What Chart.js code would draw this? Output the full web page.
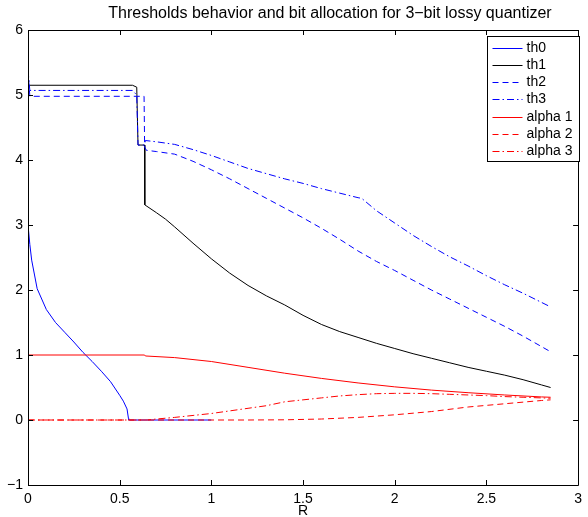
<!DOCTYPE html>
<html>
<head>
<meta charset="utf-8">
<script src="https://cdn.jsdelivr.net/npm/chart.js@4.4.1/dist/chart.umd.min.js"></script>
<style>
  html, body { margin: 0; padding: 0; background: #fff; }
  #wrap { width: 588px; height: 517px; }
</style>
</head>
<body>
<div id="wrap"><canvas id="chart" width="588" height="517"></canvas></div>
<script>
// Data
const chartTitle = 'Thresholds behavior and bit allocation for 3\u2212bit lossy quantizer';
const xLabel = 'R';
const xTicks = [0, 0.5, 1, 1.5, 2, 2.5, 3];
const yTicks = [-1, 0, 1, 2, 3, 4, 5, 6];

const th0R = [0, 0.01, 0.02, 0.05, 0.1, 0.15, 0.2, 0.25, 0.3, 0.35, 0.4, 0.45, 0.5, 0.52, 0.54, 0.548, 0.55, 1.0];
const th0 = [3.0, 2.7, 2.46, 2.02, 1.70, 1.50, 1.35, 1.20, 1.04, 0.90, 0.75, 0.59, 0.38, 0.29, 0.17, 0.02, 0, 0];

const th1R = [0, 0.57, 0.593, 0.6, 0.636, 0.637, 0.7, 0.75, 0.8, 0.9, 1.0, 1.1, 1.2, 1.3, 1.4, 1.5, 1.6, 1.7, 1.8, 1.9, 2.0, 2.1, 2.2, 2.3, 2.4, 2.5, 2.6, 2.7, 2.8, 2.85];
const th1 = [5.15, 5.15, 5.12, 4.23, 4.23, 3.31, 3.19, 3.09, 2.97, 2.72, 2.48, 2.26, 2.07, 1.91, 1.77, 1.61, 1.47, 1.36, 1.27, 1.18, 1.10, 1.02, 0.95, 0.88, 0.81, 0.75, 0.69, 0.62, 0.54, 0.50];

const th2R = [0, 0.01, 0.633, 0.636, 0.645, 0.7, 0.8, 0.9, 1.0, 1.1, 1.2, 1.3, 1.4, 1.5, 1.6, 1.7, 1.8, 1.9, 2.0, 2.1, 2.2, 2.3, 2.4, 2.5, 2.6, 2.7, 2.8, 2.85];
const th2 = [5.38, 4.98, 4.98, 4.2, 4.15, 4.13, 4.09, 3.98, 3.85, 3.71, 3.56, 3.41, 3.26, 3.11, 2.95, 2.78, 2.60, 2.44, 2.30, 2.15, 2.0, 1.86, 1.72, 1.58, 1.44, 1.29, 1.13, 1.05];

const th3R = [0, 0.01, 0.57, 0.593, 0.6, 0.636, 0.64, 0.7, 0.8, 0.9, 1.0, 1.1, 1.2, 1.3, 1.4, 1.5, 1.6, 1.7, 1.8, 1.82, 1.9, 2.0, 2.1, 2.2, 2.3, 2.4, 2.5, 2.6, 2.7, 2.8, 2.85];
const th3 = [5.38, 5.07, 5.07, 5.0, 4.23, 4.23, 4.30, 4.28, 4.24, 4.16, 4.07, 3.97, 3.87, 3.79, 3.71, 3.64, 3.56, 3.49, 3.42, 3.41, 3.22, 3.03, 2.84, 2.67, 2.51, 2.37, 2.22, 2.08, 1.95, 1.81, 1.74];

const alpha1R = [0, 0.636, 0.64, 0.8, 1.0, 1.2, 1.4, 1.6, 1.8, 2.0, 2.2, 2.4, 2.6, 2.8, 2.85];
const alpha1 = [1.0, 1.0, 0.985, 0.96, 0.90, 0.81, 0.72, 0.64, 0.57, 0.51, 0.46, 0.42, 0.385, 0.355, 0.35];

const alpha2R = [0, 1.0, 1.2, 1.4, 1.6, 1.8, 2.0, 2.2, 2.4, 2.6, 2.8, 2.85];
const alpha2 = [0, 0, 0, 0.003, 0.015, 0.04, 0.08, 0.13, 0.2, 0.25, 0.3, 0.31];

const alpha3R = [0, 0.65, 0.7, 0.8, 0.9, 1.0, 1.1, 1.2, 1.3, 1.4, 1.5, 1.6, 1.7, 1.8, 1.9, 2.0, 2.1, 2.2, 2.3, 2.4, 2.5, 2.6, 2.7, 2.8, 2.85];
const alpha3 = [0, 0, 0.015, 0.04, 0.07, 0.10, 0.14, 0.18, 0.22, 0.28, 0.31, 0.34, 0.37, 0.39, 0.405, 0.41, 0.41, 0.405, 0.395, 0.385, 0.375, 0.36, 0.35, 0.34, 0.335];

const FONT = '"Liberation Sans", Arial, Helvetica, sans-serif';
const DASH = [6, 4];
const DASHDOT = [7, 3, 1.5, 3];

function pts(xs, ys) {
    return xs.map((x, i) => ({ x: x, y: ys[i] }));
}

function series(label, xs, ys, color, dash) {
    return {
        label: label,
        data: pts(xs, ys),
        borderColor: color,
        borderWidth: 1,
        borderDash: dash,
        pointRadius: 0,
        fill: false,
        tension: 0
    };
}

const datasets = [
    series('th0', th0R, th0, '#0000ff', []),
    series('th1', th1R, th1, '#000000', []),
    series('th2', th2R, th2, '#0000ff', DASH),
    series('th3', th3R, th3, '#0000ff', DASHDOT),
    series('alpha 1', alpha1R, alpha1, '#ff0000', []),
    series('alpha 2', alpha2R, alpha2, '#ff0000', DASH),
    series('alpha 3', alpha3R, alpha3, '#ff0000', DASHDOT)
];
// later series drawn on top, like the original
datasets.forEach((d, i) => { d.order = datasets.length - i; });

// Axes box, inward ticks, title and legend
const matlabLook = {
    id: 'matlabLook',
    afterDraw(chart) {
        const ctx = chart.ctx;
        const a = chart.chartArea;
        const xs = chart.scales.x, ys = chart.scales.y;
        ctx.save();
        ctx.strokeStyle = '#000';
        ctx.lineWidth = 1;
        ctx.setLineDash([]);
        ctx.beginPath();
        ctx.rect(Math.round(a.left) + 0.5, Math.round(a.top) + 0.5,
                 Math.round(a.right - a.left), Math.round(a.bottom - a.top));
        const tl = 5;
        xTicks.forEach(v => {
            const px = Math.round(xs.getPixelForValue(v)) + 0.5;
            ctx.moveTo(px, a.bottom); ctx.lineTo(px, a.bottom - tl);
            ctx.moveTo(px, a.top); ctx.lineTo(px, a.top + tl);
        });
        yTicks.forEach(v => {
            const py = Math.round(ys.getPixelForValue(v)) + 0.5;
            ctx.moveTo(a.left, py); ctx.lineTo(a.left + tl, py);
            ctx.moveTo(a.right, py); ctx.lineTo(a.right - tl, py);
        });
        ctx.stroke();

        // title
        ctx.fillStyle = '#000';
        ctx.font = '16px ' + FONT;
        ctx.textAlign = 'center';
        ctx.textBaseline = 'middle';
        ctx.fillText(chartTitle, 330, 14);

        // legend
        const lx = 487.5, ly = 36.5, lw = 92, lh = 125, row = 17.3;
        ctx.fillStyle = '#fff';
        ctx.fillRect(lx, ly, lw, lh);
        ctx.strokeRect(lx, ly, lw, lh);
        ctx.font = '14px ' + FONT;
        ctx.textAlign = 'left';
        chart.data.datasets.forEach((d, i) => {
            const y = Math.round(ly + 11 + i * row) + 0.5;
            ctx.strokeStyle = d.borderColor;
            ctx.setLineDash(d.borderDash);
            ctx.beginPath();
            ctx.moveTo(lx + 5, y);
            ctx.lineTo(lx + 35, y);
            ctx.stroke();
            ctx.fillStyle = '#000';
            ctx.fillText(d.label, lx + 39, y);
        });
        ctx.restore();
    }
};

new Chart(document.getElementById('chart'), {
    type: 'line',
    data: { datasets: datasets },
    options: {
        responsive: false,
        animation: false,
        layout: { padding: { top: 30, right: 5, left: 0, bottom: 0 } },
        plugins: {
            legend: { display: false },
            title: { display: false },
            tooltip: { enabled: false }
        },
        scales: {
            x: {
                type: 'linear',
                min: 0,
                max: 3,
                afterFit: s => { s.height = 32; },
                afterBuildTicks: s => { s.ticks = xTicks.map(v => ({ value: v })); },
                grid: { display: false, drawTicks: false },
                border: { display: false },
                ticks: {
                    padding: 6,
                    color: '#000',
                    font: { family: FONT, size: 14 },
                    maxRotation: 0,
                    callback: v => String(v)
                },
                title: {
                    display: true,
                    text: xLabel,
                    color: '#000',
                    font: { family: FONT, size: 14 },
                    padding: { top: 0, bottom: -3 }
                }
            },
            y: {
                min: -1,
                max: 6,
                afterFit: s => { s.width = 28; },
                afterBuildTicks: s => { s.ticks = yTicks.map(v => ({ value: v })); },
                grid: { display: false, drawTicks: false },
                border: { display: false },
                ticks: {
                    padding: 5,
                    color: '#000',
                    font: { family: FONT, size: 14 },
                    callback: v => (v < 0 ? '\u2212' + Math.abs(v) : String(v))
                }
            }
        }
    },
    plugins: [matlabLook]
});
</script>
</body>
</html>
